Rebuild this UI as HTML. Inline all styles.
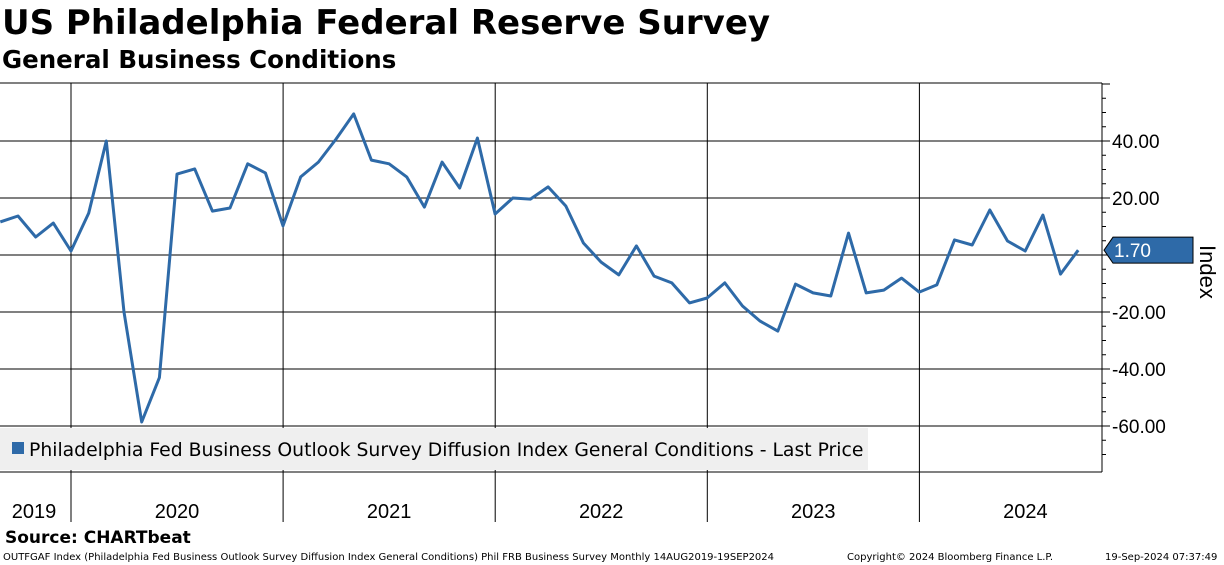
<!DOCTYPE html>
<html><head><meta charset="utf-8"><style>
body{margin:0;background:#fff;width:1224px;height:565px;overflow:hidden;font-family:"Liberation Sans","DejaVu Sans",sans-serif}
#title{position:absolute;left:2px;top:3px;font-size:34px;font-weight:bold;font-family:"DejaVu Sans","Liberation Sans",sans-serif}
#sub{position:absolute;left:2px;top:45px;font-size:24.5px;font-weight:bold;font-family:"DejaVu Sans","Liberation Sans",sans-serif}
svg{position:absolute;left:0;top:0}
</style></head><body>
<div id="title">US Philadelphia Federal Reserve Survey</div>
<div id="sub">General Business Conditions</div>
<svg id="c" width="1224" height="565"></svg>
<script>
const startMonth = -4; // Aug 2019 relative to Dec 2019
const values = [11.6,13.7,6.3,11.2,1.4,14.7,40,-20,-58.6,-43,28.4,30.2,15.4,16.5,32,28.8,10.2,27.4,32.6,40.7,49.5,33.3,32,27.4,16.8,32.6,23.5,41,14.4,20,19.6,23.9,17.2,4.2,-2.5,-7,3.2,-7.4,-9.8,-16.8,-15.1,-9.8,-17.9,-23.2,-26.7,-10.2,-13.3,-14.4,7.7,-13.3,-12.3,-8.1,-13,-10.5,5.3,3.5,15.8,4.9,1.4,14,-6.7,1.7];
const yTicks = [40,20,0,-20,-40,-60];
const years = ["2019","2020","2021","2022","2023","2024"];
const lastLabel = "1.70";
const NS="http://www.w3.org/2000/svg";
const svg=document.getElementById('c');
const x=i=>71+(startMonth+i)*17.67;
const y=v=>255-v*2.85;
function mk(t,a,p){const e=document.createElementNS(NS,t);for(const k in a)e.setAttribute(k,a[k]);(p||svg).appendChild(e);return e;}
let e=mk('line',{x1:0,y1:83,x2:1102,y2:83,stroke:'#000','stroke-width':1});

e=mk('line',{x1:0,y1:472,x2:1102,y2:472,stroke:'#000','stroke-width':1});

e=mk('line',{x1:1102,y1:83,x2:1102,y2:472,stroke:'#000','stroke-width':1});

for(let v=60;v>=-70;v-=5){const t=mk('line',{x1:1102,x2:v%20===0?1110:1106,y1:y(v),y2:y(v),stroke:'#000'});
}
yTicks.forEach(v=>{
 const g=mk('line',{x1:0,x2:1102,y1:y(v),y2:y(v),stroke:'#000','stroke-width':1});
 
 if(v!==0){const t=mk('text',{x:1112,y:y(v)+7,'font-size':19,fill:'#000'});t.textContent=v.toFixed(2);
 }
});
for(let k=1;k<years.length;k++){const xx=71+(k-1)*212.1;
 const l=mk('line',{x1:xx,x2:xx,y1:83,y2:522,stroke:'#000','stroke-width':1});
 }
years.forEach((yr,k)=>{const cx=k===0?34:71+(k-1)*212.1+106;
 const t=mk('text',{x:cx,y:518,'font-size':20,'text-anchor':'middle',fill:'#000'});t.textContent=yr;
 });
e=mk('rect',{x:0,y:428,width:868,height:42,fill:'#efefef'});

e=mk('rect',{x:12,y:442,width:12,height:12,fill:'#2e6aa8'});

e=mk('text',{x:29,y:456,'font-size':18.8,fill:'#000','font-family':'DejaVu Sans, Liberation Sans, sans-serif'});e.textContent='Philadelphia Fed Business Outlook Survey Diffusion Index General Conditions - Last Price';

const pts=values.map((v,i)=>x(i).toFixed(1)+','+y(v).toFixed(1)).join(' ');
e=mk('polyline',{points:pts,fill:'none',stroke:'#2e6aa8','stroke-width':3,'stroke-linejoin':'round'});

const ly=y(values[values.length-1]);
e=mk('path',{d:`M1104 ${ly} L1113 ${ly-13} H1193 V${ly+13} H1113 Z`,fill:'#2e6aa8',stroke:'#000','stroke-width':1});

e=mk('text',{x:1114,y:ly+7,'font-size':19,fill:'#fff'});e.textContent=lastLabel;

e=mk('text',{x:1200,y:245,'font-size':22,fill:'#000',transform:'rotate(90 1200 245)'});e.textContent='Index';

e=mk('text',{x:5,y:543,'font-size':17,'font-weight':'bold',fill:'#000','font-family':'DejaVu Sans, Liberation Sans, sans-serif'});e.textContent='Source: CHARTbeat';

e=mk('text',{x:3,y:560,'font-size':10,fill:'#000','font-family':'DejaVu Sans, Liberation Sans, sans-serif'});e.textContent='OUTFGAF Index (Philadelphia Fed Business Outlook Survey Diffusion Index General Conditions) Phil FRB Business Survey  Monthly 14AUG2019-19SEP2024';

e=mk('text',{x:847,y:560,'font-size':10,fill:'#000','font-family':'DejaVu Sans, Liberation Sans, sans-serif'});e.textContent='Copyright© 2024 Bloomberg Finance L.P.';

e=mk('text',{x:1105,y:560,'font-size':10,fill:'#000','font-family':'DejaVu Sans, Liberation Sans, sans-serif'});e.textContent='19-Sep-2024 07:37:49';

</script>
</body></html>
